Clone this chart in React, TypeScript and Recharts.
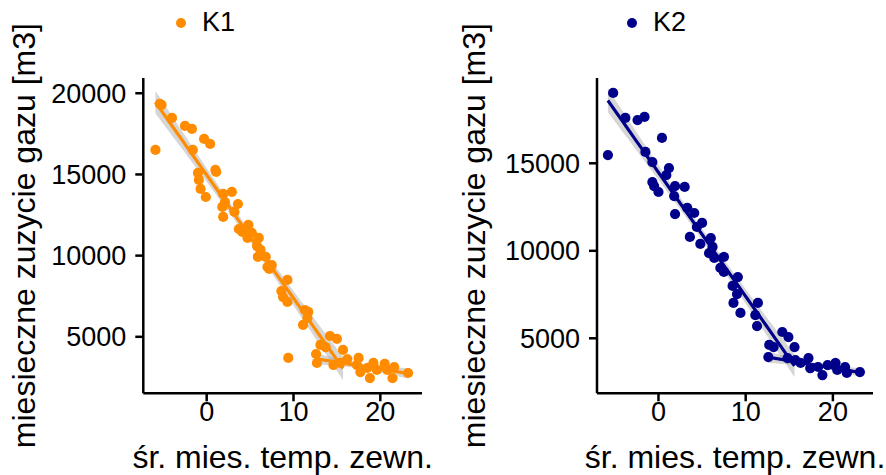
import { ComposedChart, Scatter, Line, Area, XAxis, YAxis, ZAxis, Label } from "recharts"

let K1_COLOR = "#FF8C00"
let K2_COLOR = "#00008B"
let FONT = "'Liberation Sans', Arial, sans-serif"

// K1 – heating season: mean monthly outdoor temp / monthly gas use [m3]
let k1HeatTemp = [-5.4, -5.2, -4.0, -2.5, -1.7, -5.9, -0.3, 0.4, -1.6, 1.0, 1.1, -1.0, -0.9, -0.7, -0.1, 1.9, 2.9, 1.8, 2.1, 3.6, 3.2, 1.9, 3.7, 4.1, 4.8, 4.7, 5.2, 6.0, 5.8, 6.2, 5.9, 6.8, 7.0, 7.5, 7.2, 9.3, 8.6, 8.8, 9.3, 11.3, 11.7, 11.1, 11.6, 14.2, 15.0, 13.1, 13.7, 15.7, 9.4]
let k1HeatGas = [19340, 19280, 18480, 17990, 17800, 16510, 17190, 16880, 16510, 15280, 15150, 15090, 14660, 14110, 13610, 13800, 13920, 13000, 13300, 13180, 12690, 12380, 11640, 11460, 11890, 11090, 11400, 11090, 10590, 10350, 9920, 9920, 9300, 9420, 9180, 8500, 7820, 7450, 7150, 6650, 6530, 5730, 6160, 5050, 4870, 4500, 4370, 4190, 3700]
// K1 – summer months
let k1SumTemp = [12.6, 12.7, 14.6, 15.4, 16.2, 17.5, 17.3, 17.7, 18.5, 18.8, 19.2, 19.6, 20.5, 20.8, 21.6, 21.4, 23.2]
let k1SumGas = [3940, 3390, 3270, 3390, 3630, 3700, 3270, 2830, 3080, 2460, 3390, 2960, 3330, 2960, 3140, 2460, 2770]

// K2 – heating season
let k2HeatTemp = [-5.2, -3.8, -2.4, -1.6, 0.4, -5.8, -1.5, -0.7, 1.2, 0.9, -0.7, -0.5, 0.0, 1.9, 3.0, 1.8, 3.3, 4.1, 1.9, 5.0, 4.4, 3.6, 4.8, 6.0, 6.2, 5.8, 6.4, 7.5, 7.1, 7.5, 9.1, 8.5, 9.0, 8.6, 9.4, 11.4, 11.1, 11.3, 14.2, 14.9, 12.7, 13.2, 15.6, 14.8]
let k2HeatGas = [19020, 17590, 17470, 17650, 16450, 15470, 15650, 15070, 14730, 14330, 13930, 13700, 13360, 13700, 13650, 13130, 12450, 12160, 12100, 11590, 11360, 10790, 10390, 10730, 10220, 9870, 9590, 9650, 9020, 8790, 8500, 7990, 7530, 7020, 6450, 7020, 6330, 5700, 5360, 5070, 4620, 4500, 4500, 3870]
// K2 – summer months
let k2SumTemp = [12.6, 15.7, 16.3, 17.2, 17.4, 18.3, 18.8, 19.4, 20.3, 20.5, 21.4, 21.6, 23.1]
let k2SumGas = [3930, 3760, 3590, 3870, 3300, 3360, 2900, 3470, 3590, 3190, 3360, 3020, 3070]

let xTicks = [0, 10, 20]
let k1YTicks = [5000, 10000, 15000, 20000]
let k2YTicks = [5000, 10000, 15000]

let toPoints = (xs: number[], ys: number[]) => xs.map((x, i) => ({ x, y: ys[i] }))

// lm fit with 95% confidence band, like geom_smooth(method = "lm")
let fitLm = (xs: number[], ys: number[]) => {
  let n = xs.length
  let mx = xs.reduce((a, b) => a + b, 0) / n
  let my = ys.reduce((a, b) => a + b, 0) / n
  let sxx = 0
  let sxy = 0
  xs.forEach((x, i) => {
    sxx += (x - mx) ** 2
    sxy += (x - mx) * (ys[i] - my)
  })
  let b = sxy / sxx
  let a = my - b * mx
  let rss = xs.reduce((acc, x, i) => acc + (ys[i] - a - b * x) ** 2, 0)
  let s = Math.sqrt(rss / (n - 2))
  let lo = Math.min(...xs)
  let hi = Math.max(...xs)
  let steps = 40
  return Array.from({ length: steps + 1 }, (_, k) => {
    let x = lo + ((hi - lo) * k) / steps
    let y = a + b * x
    let se = s * Math.sqrt(1 / n + (x - mx) ** 2 / sxx)
    return { x, y, band: [y - 2.02 * se, y + 2.02 * se] }
  })
}

let tickStyle = { fill: "#000", fontSize: 27, fontFamily: FONT }
let lineStyle = { stroke: "#000", strokeWidth: 2.5 }
let titleStyle = { fill: "#000", fontSize: 32, fontFamily: FONT }

let Panel = ({ heatT, heatG, sumT, sumG, color, width, yAxisWidth, marginRight, xDomain, yDomain, yTicks, yTitleOffset }: any) => {
  let points = [...toPoints(heatT, heatG), ...toPoints(sumT, sumG)]
  let heatFit = fitLm(heatT, heatG)
  let sumFit = fitLm(sumT, sumG)
  return (
    <ComposedChart width={width} height={475} margin={{ top: 78, right: marginRight, bottom: 0, left: 0 }}>
      <XAxis
        type="number"
        dataKey="x"
        domain={xDomain}
        ticks={xTicks}
        allowDataOverflow
        height={81.7}
        tick={tickStyle}
        tickSize={8}
        tickMargin={1}
        axisLine={lineStyle}
        tickLine={lineStyle}
      >
        <Label value="śr. mies. temp. zewn." position="insideBottom" offset={7} style={titleStyle} />
      </XAxis>
      <YAxis
        type="number"
        domain={yDomain}
        ticks={yTicks}
        allowDataOverflow
        width={yAxisWidth}
        tick={tickStyle}
        tickSize={8}
        tickMargin={9}
        axisLine={lineStyle}
        tickLine={lineStyle}
      >
        <Label
          value="miesieczne zuzycie gazu [m3]"
          angle={-90}
          position="insideLeft"
          offset={yTitleOffset}
          style={{ ...titleStyle, textAnchor: "middle" }}
        />
      </YAxis>
      <ZAxis range={[82, 82]} />
      <Scatter data={points} dataKey="y" fill={color} isAnimationActive={false} />
      <Area data={heatFit} dataKey="band" type="linear" stroke="none" fill="#999" fillOpacity={0.4} dot={false} activeDot={false} isAnimationActive={false} />
      <Area data={sumFit} dataKey="band" type="linear" stroke="none" fill="#999" fillOpacity={0.4} dot={false} activeDot={false} isAnimationActive={false} />
      <Line data={heatFit} dataKey="y" type="linear" stroke={color} strokeWidth={3.2} dot={false} activeDot={false} isAnimationActive={false} />
      <Line data={sumFit} dataKey="y" type="linear" stroke={color} strokeWidth={3.2} dot={false} activeDot={false} isAnimationActive={false} />
    </ComposedChart>
  )
}

let LegendKey = ({ left, color, label }: { left: number; color: string; label: string }) => (
  <div style={{ position: "absolute", left, top: 7, display: "flex", alignItems: "center", fontFamily: FONT, fontSize: 27, color: "#000" }}>
    <span style={{ width: 10, height: 10, borderRadius: 5, background: color, marginRight: 16 }} />
    <span>{label}</span>
  </div>
)

export default function App() {
  return (
    <div style={{ position: "absolute", left: 0, top: 0, width: 886, height: 475, background: "#fff" }}>
      <div style={{ position: "absolute", left: 0, top: 0 }}>
        <Panel
          heatT={k1HeatTemp}
          heatG={k1HeatGas}
          sumT={k1SumTemp}
          sumG={k1SumGas}
          color={K1_COLOR}
          width={440}
          yAxisWidth={143.3}
          marginRight={18}
          xDomain={[-7.3, 24.8]}
          yDomain={[1520, 20940]}
          yTicks={k1YTicks}
          yTitleOffset={24}
        />
      </div>
      <div style={{ position: "absolute", left: 443, top: 0 }}>
        <Panel
          heatT={k2HeatTemp}
          heatG={k2HeatGas}
          sumT={k2SumTemp}
          sumG={k2SumGas}
          color={K2_COLOR}
          width={443}
          yAxisWidth={154}
          marginRight={13}
          xDomain={[-7.05, 24.6]}
          yDomain={[1857, 19874]}
          yTicks={k2YTicks}
          yTitleOffset={31}
        />
      </div>
      <LegendKey left={176} color={K1_COLOR} label="K1" />
      <LegendKey left={627} color={K2_COLOR} label="K2" />
    </div>
  )
}
